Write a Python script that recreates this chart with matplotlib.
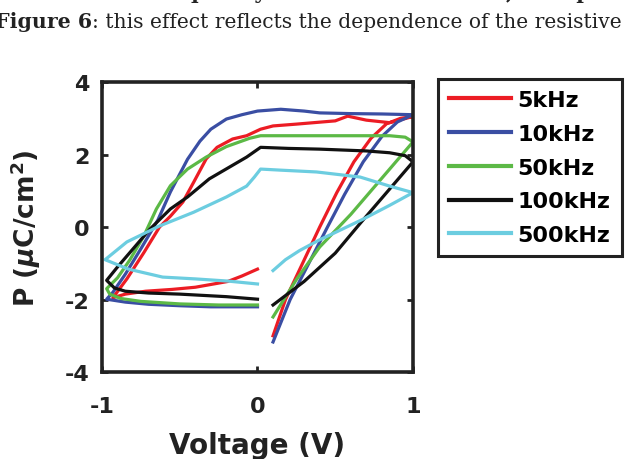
import matplotlib
matplotlib.use("Agg")
import matplotlib.pyplot as plt

# P-E loops: path runs bottom-right -> up to +1 V -> top branch back to -1 V -> bottom branch to 0 V
v_5k = [0.10, 0.18, 0.29, 0.40, 0.51, 0.62, 0.73, 0.83, 0.92, 1.00,
        0.85, 0.70, 0.58, 0.50, 0.25, 0.10, 0.02, -0.07, -0.16, -0.26, -0.33, -0.41, -0.48, -0.56, -0.63, -0.73, -0.84, -0.93,
        -0.85, -0.72, -0.55, -0.40, -0.19, -0.10, 0.00]
p_5k = [-3.00, -2.00, -1.00, 0.00, 0.95, 1.80, 2.45, 2.85, 3.00, 3.05,
        2.88, 2.95, 3.06, 2.93, 2.84, 2.79, 2.70, 2.52, 2.43, 2.20, 1.88, 1.24, 0.69, 0.30, 0.00, -0.70, -1.43, -1.95,
        -1.85, -1.77, -1.72, -1.66, -1.50, -1.35, -1.16]

v_10k = [0.10, 0.21, 0.33, 0.45, 0.56, 0.68, 0.80, 0.90, 1.00,
         0.80, 0.60, 0.40, 0.30, 0.15, 0.00, -0.10, -0.20, -0.30, -0.37, -0.45, -0.56, -0.64, -0.75, -0.85, -0.93, -0.97,
         -0.85, -0.70, -0.50, -0.30, -0.10, 0.00]
p_10k = [-3.17, -2.00, -1.00, 0.00, 0.90, 1.80, 2.50, 2.90, 3.10,
         3.12, 3.13, 3.15, 3.20, 3.25, 3.20, 3.10, 2.98, 2.70, 2.37, 1.87, 0.97, 0.20, -0.60, -1.30, -1.80, -1.99,
         -2.07, -2.13, -2.17, -2.20, -2.20, -2.20]

v_50k = [0.10, 0.25, 0.40, 0.50, 0.60, 0.70, 0.80, 0.90, 0.96, 1.00,
         0.95, 0.85, 0.60, 0.30, 0.10, 0.02, -0.05, -0.20, -0.33, -0.45, -0.56, -0.65, -0.73, -0.82, -0.90, -0.97,
         -0.95, -0.88, -0.75, -0.50, -0.25, 0.00]
p_50k = [-2.48, -1.45, -0.55, -0.10, 0.35, 0.85, 1.35, 1.85, 2.15, 2.35,
         2.48, 2.52, 2.52, 2.52, 2.52, 2.52, 2.45, 2.22, 1.93, 1.60, 1.14, 0.50, -0.24, -0.90, -1.40, -1.70,
         -1.85, -1.97, -2.05, -2.12, -2.15, -2.15]

v_100k = [0.10, 0.30, 0.50, 0.66, 0.80, 0.90, 1.00,
          0.95, 0.85, 0.70, 0.40, 0.20, 0.02, -0.07, -0.31, -0.45, -0.56, -0.69, -0.80, -0.90, -0.97,
          -0.92, -0.85, -0.70, -0.50, -0.20, 0.00]
p_100k = [-2.15, -1.50, -0.72, 0.10, 0.80, 1.30, 1.80,
          1.97, 2.05, 2.10, 2.15, 2.17, 2.20, 1.93, 1.33, 0.83, 0.50, -0.05, -0.60, -1.10, -1.47,
          -1.68, -1.77, -1.82, -1.85, -1.92, -1.99]

v_500k = [0.10, 0.18, 0.27, 0.40, 0.50, 0.68, 0.85, 1.00,
          0.85, 0.66, 0.38, 0.15, 0.02, -0.02, -0.07, -0.20, -0.41, -0.63, -0.84, -0.98,
          -0.83, -0.61, -0.40, -0.19, 0.00]
p_500k = [-1.20, -0.90, -0.65, -0.35, -0.15, 0.22, 0.60, 0.95,
          1.13, 1.38, 1.52, 1.57, 1.60, 1.38, 1.13, 0.83, 0.41, 0.03, -0.41, -0.90,
          -1.16, -1.38, -1.43, -1.49, -1.57]

labels = ["5kHz", "10kHz", "50kHz", "100kHz", "500kHz"]
colors = ["#ec1c24", "#3a4ea3", "#5cb946", "#111111", "#6ccde0"]
series = [(v_5k, p_5k), (v_10k, p_10k), (v_50k, p_50k), (v_100k, p_100k), (v_500k, p_500k)]

plt.rcParams["font.family"] = "DejaVu Sans"
plt.rcParams["font.weight"] = "bold"
plt.rcParams["axes.unicode_minus"] = False
plt.rcParams["mathtext.fontset"] = "custom"
plt.rcParams["mathtext.rm"] = "DejaVu Sans:bold"
plt.rcParams["mathtext.it"] = "DejaVu Sans:bold:italic"
plt.rcParams["mathtext.bf"] = "DejaVu Sans:bold"

fig = plt.figure(figsize=(6.39, 4.60), dpi=100)
ax = fig.add_axes([0.1596, 0.189, 0.4867, 0.6304])

lines = []
for (v, p), lab, c in zip(series, labels, colors):
    ln, = ax.plot(v, p, color=c, linewidth=2.3, label=lab, solid_joinstyle="round")
    lines.append(ln)

ax.set_xlim(-1, 1)
ax.set_ylim(-4, 4)
ax.set_xticks([-1, 0, 1])
ax.set_yticks([-4, -2, 0, 2, 4])
ax.tick_params(direction="in", length=4, width=2, labelsize=16, top=True, right=True,
               color="#222222", labelcolor="#222222")
ax.tick_params(axis="x", pad=17)
ax.tick_params(axis="y", pad=9)
for s in ax.spines.values():
    s.set_linewidth(2.6)
    s.set_color("#222222")

ax.set_xlabel("Voltage (V)", fontsize=20, fontweight="bold", labelpad=11, color="#222222")
ax.set_ylabel(r"P ($\mu$C/cm$^{2}$)", fontsize=19, fontweight="bold", labelpad=16, color="#222222")

leg = fig.legend(handles=lines, loc="upper left", bbox_to_anchor=(0.685, 0.826),
                 fontsize=16, handlelength=2.8, handletextpad=0.3, labelspacing=0.62,
                 borderpad=0.5, borderaxespad=0, fancybox=False, edgecolor="#222222",
                 framealpha=1)
leg.get_frame().set_linewidth(2.2)
for h in leg.get_lines():
    h.set_linewidth(3)

# surrounding page text (cropped from the document)
fig.text(0.62, 1.0 + 1 / 460, "on the frequency of the measurement, as represented in",
         family="DejaVu Serif", fontsize=14.8, ha="center", va="baseline", color="#222222")
t1 = fig.text(-0.008, 1 - 28 / 460, "Figure 6", family="DejaVu Serif", fontsize=14.8,
              fontweight="bold", ha="left", va="baseline", color="#222222")
ax.annotate(": this effect reflects the dependence of the resistive", xy=(1, 0), xycoords=t1,
            va="bottom", ha="left", family="DejaVu Serif", fontsize=14.6, fontweight="normal",
            color="#222222", annotation_clip=False)

fig.savefig("out.png", dpi=100)
